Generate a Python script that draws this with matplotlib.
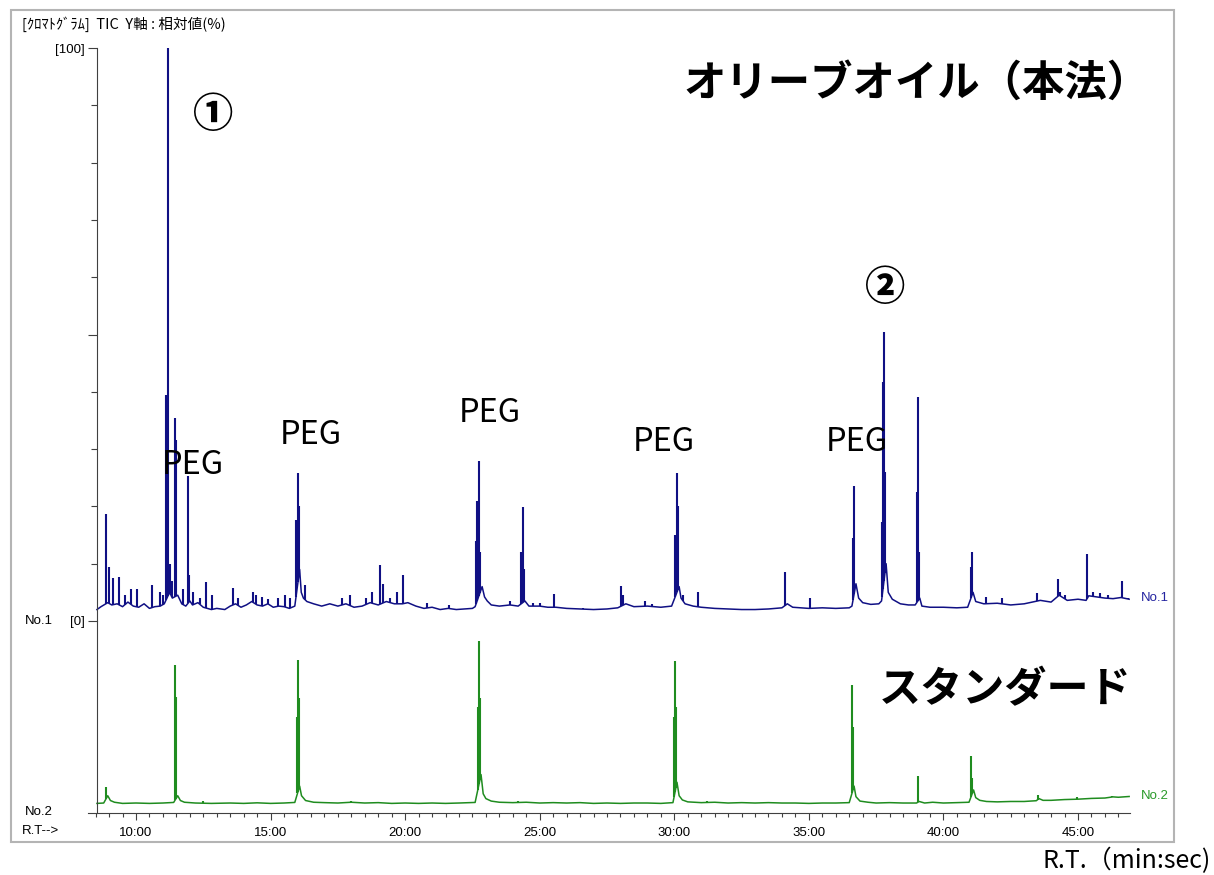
import numpy as np
import matplotlib
matplotlib.use("Agg")
import matplotlib.pyplot as plt
from matplotlib import font_manager
from matplotlib.patches import Rectangle

# chromatogram data (time in minutes, intensity in %)
# No.1 : olive oil (this method)
base1_t = [8.55, 8.7, 8.95, 9.1, 9.3, 9.5, 9.7, 9.9, 10.1, 10.3, 10.5, 10.7, 10.9, 11.05,
           11.25, 11.35, 11.55, 11.7, 11.85, 12.0, 12.1, 12.3, 12.5, 12.8, 13.0, 13.3, 13.5,
           13.7, 13.9, 14.1, 14.3, 14.5, 14.7, 14.9, 15.1, 15.3, 15.5, 15.7, 15.9, 16.08,
           16.14, 16.22, 16.35, 16.6, 16.9, 17.2, 17.5, 17.8, 18.1, 18.4, 18.7, 19.0, 19.3,
           19.6, 19.9, 20.1, 20.4, 20.7, 21.0, 21.3, 21.6, 21.9, 22.2, 22.5, 22.6, 22.86,
           22.95, 23.05, 23.2, 23.5, 23.9, 24.2, 24.45, 24.6, 25.0, 25.3, 25.6, 26.0, 26.5,
           27.0, 27.5, 27.9, 28.2, 28.5, 29.0, 29.5, 29.9, 30.18, 30.25, 30.4, 30.7, 31.0,
           31.5, 32.0, 32.5, 33.0, 33.5, 34.0, 34.2, 34.4, 35.0, 35.5, 36.0, 36.5, 36.6,
           36.75, 36.85, 37.0, 37.3, 37.6, 37.7, 37.87, 37.95, 38.1, 38.4, 38.7, 38.95,
           39.12, 39.2, 39.5, 40.0, 40.5, 40.9, 41.1, 41.2, 41.5, 42.0, 42.5, 43.0, 43.4,
           43.6, 44.0, 44.3, 44.6, 45.0, 45.3, 45.4, 45.7, 46.0, 46.3, 46.6, 46.9]
base1_v = [2.0, 2.5, 3.2, 2.8, 3.0, 2.5, 3.3, 2.6, 2.4, 3.0, 2.2, 2.5, 2.6, 3.0,
           5.0, 4.0, 4.5, 3.0, 2.6, 3.5, 2.8, 3.2, 2.4, 2.0, 2.2, 2.0, 2.6,
           3.0, 2.4, 2.8, 3.4, 2.8, 2.6, 3.0, 2.4, 2.6, 2.5, 2.2, 2.6, 9.0,
           5.0, 4.0, 3.4, 3.0, 2.6, 3.0, 2.6, 3.0, 2.4, 2.6, 3.2, 2.8, 3.4,
           3.0, 3.0, 3.2, 2.6, 2.2, 2.4, 2.0, 2.2, 2.0, 2.1, 2.2, 2.5, 6.0,
           4.2, 3.5, 2.8, 2.6, 2.8, 2.6, 3.5, 2.6, 2.6, 2.4, 2.4, 2.2, 2.1,
           2.0, 2.1, 2.3, 3.0, 2.5, 2.6, 2.4, 2.6, 6.0, 4.0, 3.0, 2.6, 2.4,
           2.2, 2.1, 2.0, 2.0, 2.1, 2.3, 3.0, 2.4, 2.2, 2.3, 2.2, 2.3, 2.6,
           6.5, 4.0, 3.2, 2.9, 3.0, 3.5, 10.0, 5.0, 3.8, 3.0, 2.8, 2.8,
           4.0, 2.6, 2.4, 2.4, 2.3, 2.4, 5.0, 3.4, 3.0, 3.1, 2.8, 3.0, 3.4,
           3.6, 3.3, 4.5, 3.6, 3.8, 3.6, 4.4, 4.2, 4.0, 3.9, 4.1, 3.8]
peak1_t = [8.885, 8.997, 9.145, 9.368, 9.59, 9.814, 10.037, 10.594, 10.892, 11.003,
           11.115, 11.189, 11.263, 11.338, 11.449, 11.486, 11.746, 11.932, 11.97, 12.118,
           12.378, 12.601, 12.824, 13.604, 13.79, 14.347, 14.459, 14.682, 14.904, 15.276,
           15.536, 15.722, 15.945, 16.019, 16.056, 16.28, 17.654, 17.951, 18.546, 18.769,
           19.066, 19.178, 19.438, 19.698, 19.921, 20.813, 21.63, 22.633, 22.67, 22.744,
           22.78, 23.896, 24.30, 24.379, 24.416, 24.75, 25.01, 25.531, 26.608, 28.02,
           28.095, 28.912, 29.17, 30.025, 30.10, 30.136, 30.32, 30.88, 34.114, 35.043,
           36.64, 36.68, 37.72, 37.755, 37.792, 37.829, 39.018, 39.055, 39.09, 41.02,
           41.06, 41.58, 42.18, 43.477, 44.258, 44.33, 44.517, 45.334, 45.56, 45.818,
           46.115, 46.635, 46.86]
peak1_h = [18.7, 9.4, 7.5, 7.7, 4.5, 5.5, 5.5, 6.3, 5.0, 4.5,
           39.4, 100.0, 10.0, 7.0, 35.4, 31.6, 5.5, 25.3, 8.0, 5.0,
           4.0, 6.8, 4.5, 5.8, 4.0, 5.0, 4.5, 4.2, 3.8, 4.0,
           4.5, 4.0, 17.6, 25.8, 20.0, 6.3, 4.0, 4.5, 4.0, 5.0,
           9.8, 6.5, 4.0, 5.0, 8.0, 3.1, 2.8, 14.0, 21.0, 27.9,
           12.0, 3.5, 12.0, 19.9, 9.0, 3.1, 3.1, 4.7, 2.3, 6.1,
           4.5, 3.5, 3.0, 15.0, 25.8, 20.0, 4.5, 5.0, 8.6, 4.0,
           14.5, 23.6, 17.3, 41.7, 50.4, 26.0, 22.5, 39.1, 12.0, 9.5,
           12.0, 4.2, 4.0, 4.9, 7.3, 5.0, 4.5, 11.7, 5.0, 4.8,
           4.5, 7.0, 4.0]

# No.2 : standard (own relative scale, 0-100 over the lower band)
base2_t = [8.55, 8.8, 8.95, 9.05, 9.2, 9.5, 10.0, 10.5, 11.0, 11.4, 11.55, 11.65, 11.8,
           12.2, 12.8, 13.5, 14.0, 14.5, 15.0, 15.5, 15.9, 16.08, 16.15, 16.3, 16.6, 17.0,
           17.5, 18.0, 18.5, 19.0, 19.5, 20.0, 20.5, 21.0, 21.5, 22.0, 22.6, 22.82, 22.9,
           23.0, 23.2, 23.5, 24.0, 24.5, 25.0, 25.5, 26.0, 26.5, 27.0, 27.5, 28.0, 28.5,
           29.0, 29.5, 29.95, 30.1, 30.18, 30.3, 30.5, 31.0, 31.5, 32.0, 32.5, 33.0, 33.5,
           34.0, 34.5, 35.0, 35.5, 36.0, 36.5, 36.68, 36.75, 36.9, 37.2, 37.5, 38.0, 38.5,
           39.0, 39.1, 39.3, 39.6, 40.0, 40.5, 40.95, 41.12, 41.2, 41.35, 41.6, 42.0, 42.5,
           43.0, 43.45, 43.55, 43.7, 44.0, 44.5, 45.0, 45.5, 46.0, 46.3, 46.5, 46.9]
base2_v = [5.0, 5.2, 9.0, 6.5, 5.6, 5.0, 5.2, 5.0, 5.2, 5.5, 9.0, 6.5, 5.6,
           5.2, 5.0, 5.2, 5.0, 5.3, 5.0, 5.2, 5.5, 14.0, 9.0, 6.5, 5.6, 5.4,
           5.2, 5.6, 5.2, 5.4, 5.0, 5.2, 5.0, 5.2, 5.0, 5.2, 5.5, 20.0, 10.0,
           7.5, 6.2, 5.6, 5.4, 5.6, 5.2, 5.4, 5.2, 5.4, 5.0, 5.2, 5.0, 5.2,
           5.2, 5.0, 5.4, 16.0, 9.0, 6.8, 5.8, 5.4, 5.6, 5.2, 5.4, 5.2, 5.4,
           5.2, 5.2, 5.0, 5.2, 5.2, 5.4, 14.0, 8.5, 6.2, 5.6, 5.2, 5.4, 5.2,
           5.2, 6.0, 5.2, 5.6, 5.2, 5.4, 5.6, 12.0, 8.0, 6.6, 6.0, 5.8, 6.0,
           6.0, 6.4, 7.5, 6.6, 6.6, 7.0, 7.2, 7.6, 7.8, 8.4, 8.2, 8.6]
peak2_t = [8.885, 11.449, 11.486, 12.5, 16.0, 16.019, 16.056, 18.0, 22.70, 22.744, 22.78,
           24.2, 29.99, 30.025, 30.06, 31.2, 36.60, 36.64, 39.055, 41.02, 41.06, 43.5,
           44.95, 46.25]
peak2_h = [13.5, 77.1, 60.4, 6.5, 50.0, 79.7, 60.0, 6.5, 55.0, 89.6, 60.0,
           6.5, 50.0, 79.2, 55.0, 6.5, 66.7, 45.0, 19.3, 29.7, 18.0, 9.4,
           8.3, 9.0]

x_major = [10, 15, 20, 25, 30, 35, 40, 45]
x_major_labels = ["10:00", "15:00", "20:00", "25:00", "30:00", "35:00", "40:00", "45:00"]

peg_t = [12.118, 16.502, 23.153, 29.618, 36.789]
peg_v = [25.65, 30.9, 34.7, 29.67, 29.67]

W, H = 1214, 875
NAVY = "#101084"
GREEN = "#1f8c1f"
AXC = "#404040"

plt.rcParams["font.family"] = ["Noto Sans CJK JP", "DejaVu Sans"]
installed = {f.name for f in font_manager.fontManager.ttflist}


def pick(*names):
    for n in names:
        if n in installed:
            return n
    return "DejaVu Sans"


MONO = pick("Noto Sans Mono CJK JP", "Liberation Sans Narrow", "Noto Sans CJK JP")
SMALL = pick("Liberation Sans", "DejaVu Sans")


def fx(px):
    return px / W


def fy(py):
    return 1 - py / H


fig = plt.figure(figsize=(W / 100, H / 100), dpi=100)
fig.patches.append(Rectangle((fx(11), fy(842)), fx(1174) - fx(11), fy(10) - fy(842),
                             transform=fig.transFigure, fill=False,
                             edgecolor="#b4b4b4", linewidth=1.5))

x_left, x_right = 8.2166, 46.932
yaxis_t = 8.551
ax1 = fig.add_axes([fx(88), fy(621), fx(1130) - fx(88), fy(48) - fy(621)])
ax2 = fig.add_axes([fx(88), fy(813), fx(1130) - fx(88), fy(621) - fy(813)], sharex=ax1)

for ax in (ax1, ax2):
    ax.set_facecolor("none")
    ax.spines["top"].set_visible(False)
    ax.spines["right"].set_visible(False)
    ax.spines["left"].set_position(("data", yaxis_t))
    ax.spines["left"].set_color(AXC)
    ax.spines["bottom"].set_color(AXC)
    ax.set_xlim(x_left, x_right)

ax1.spines["bottom"].set_visible(False)
ax1.set_ylim(0, 100)
ax2.set_ylim(0, 100)

# No.1 trace
ax1.plot(base1_t, base1_v, color=NAVY, lw=1.1)
b1 = np.interp(peak1_t, base1_t, base1_v)
ax1.vlines(peak1_t, b1, peak1_h, color=NAVY, lw=1.5)

# No.2 trace
ax2.plot(base2_t, base2_v, color=GREEN, lw=1.1)
b2 = np.interp(peak2_t, base2_t, base2_v)
ax2.vlines(peak2_t, b2, peak2_h, color=GREEN, lw=1.5)

# y ticks on No.1
ax1.set_yticks([0, 50, 100], labels=["[0]", "", "[100]"])
ax1.set_yticks([10, 20, 30, 40, 60, 70, 80, 90], minor=True)
ax1.tick_params(axis="y", which="major", direction="out", length=6.5, width=0.8,
                color=AXC, pad=2, labelsize=9.5, labelfontfamily=SMALL)
ax1.tick_params(axis="y", which="minor", direction="out", length=4.3, width=0.8, color=AXC)
ax1.tick_params(axis="x", which="both", bottom=False, labelbottom=False)
ax2.set_yticks([])

# x ticks
ax2.set_xticks(x_major, labels=x_major_labels)
ax2.set_xticks(np.arange(8.5, 47.0, 0.5), minor=True)
ax2.tick_params(axis="x", which="major", direction="out", length=5, width=0.8,
                color=AXC, pad=5, labelsize=9.5, labelfontfamily=SMALL)
ax2.tick_params(axis="x", which="minor", direction="out", length=2.6, width=0.8, color=AXC)

# annotations
for t, v in zip(peg_t, peg_v):
    ax1.text(t, v, "PEG", ha="center", va="baseline", fontsize=27 if "Mono" in MONO else 23.5,
             family=[MONO, "DejaVu Sans"])
ax1.text(12.861, 88.3, "①", ha="center", va="center", fontsize=29, fontweight="heavy")
ax1.text(37.829, 58.1, "②", ha="center", va="center", fontsize=29, fontweight="heavy")

fig.text(fx(917), fy(84), "オリーブオイル（本法）", ha="center", va="center",
         fontsize=30.5, fontweight="bold")
fig.text(fx(1005), fy(690), "スタンダード", ha="center", va="center",
         fontsize=30.3, fontweight="bold")
fig.text(fx(1127), fy(861), "R.T.（min:sec)", ha="center", va="center", fontsize=18)
fig.text(fx(22), fy(24), "[ｸﾛﾏﾄｸﾞﾗﾑ]  TIC  Y軸 : 相対値(%)", ha="left", va="center",
         fontsize=10.5)

fig.text(fx(25), fy(621), "No.1", ha="left", va="center", fontsize=9.5, family=SMALL)
fig.text(fx(25), fy(812), "No.2", ha="left", va="center", fontsize=9.5, family=SMALL)
fig.text(fx(22), fy(831), "R.T-->", ha="left", va="center", fontsize=9.5, family=SMALL)
fig.text(fx(1141), fy(598), "No.1", ha="left", va="center", fontsize=9.5,
         family=SMALL, color="#2424a0")
fig.text(fx(1141), fy(796), "No.2", ha="left", va="center", fontsize=9.5,
         family=SMALL, color="#2a9a2a")

fig.savefig("out.png", dpi=100)
